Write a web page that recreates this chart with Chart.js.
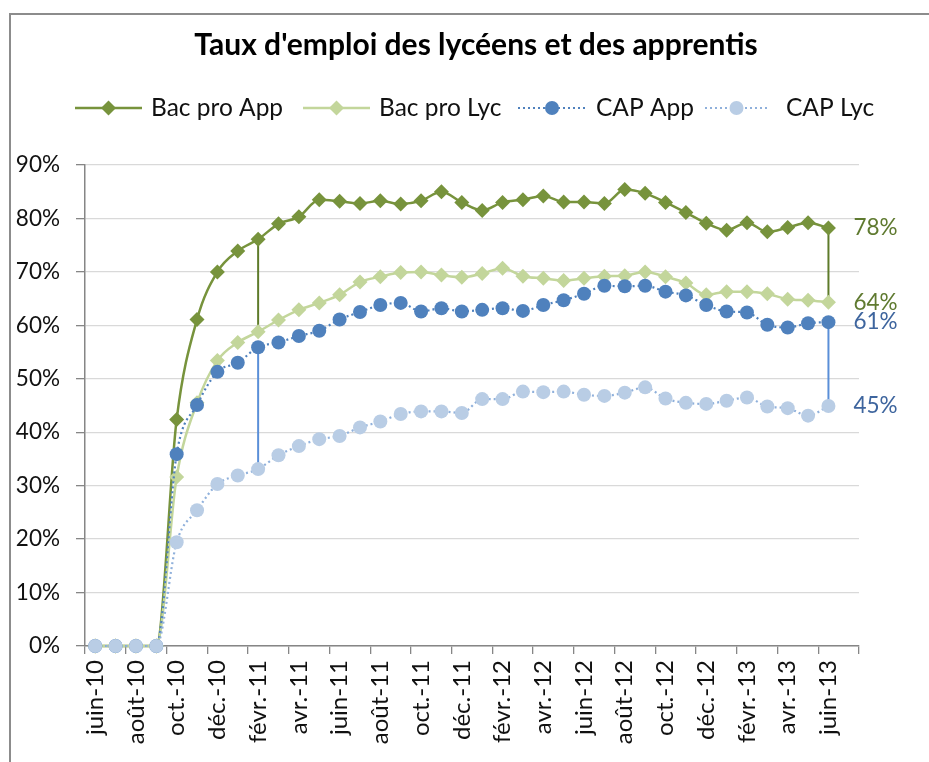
<!DOCTYPE html>
<html lang="fr">
<head>
<meta charset="utf-8">
<title>Taux d'emploi des lycéens et des apprentis</title>
<script src="https://cdn.jsdelivr.net/npm/chart.js@4.4.1/dist/chart.umd.min.js"></script>
<style>
  html, body { margin: 0; padding: 0; background: #fff; overflow: hidden; }
  #frame { position: absolute; left: 9px; top: 13px; width: 1000px; height: 800px;
           border: 2px solid #8c8c8c; box-sizing: border-box; }
  #wrap { position: absolute; left: 0; top: 0; width: 929px; height: 762px; }
</style>
</head>
<body>
<div id="frame"></div>
<div id="wrap"><canvas id="chart"></canvas></div>
<script>
// Mois (un par catégorie, la dernière reste vide comme dans Excel)
const months = [
  'juin-10', 'juil.-10', 'août-10', 'sept.-10', 'oct.-10', 'nov.-10', 'déc.-10',
  'janv.-11', 'févr.-11', 'mars-11', 'avr.-11', 'mai-11', 'juin-11', 'juil.-11', 'août-11', 'sept.-11', 'oct.-11', 'nov.-11', 'déc.-11',
  'janv.-12', 'févr.-12', 'mars-12', 'avr.-12', 'mai-12', 'juin-12', 'juil.-12', 'août-12', 'sept.-12', 'oct.-12', 'nov.-12', 'déc.-12',
  'janv.-13', 'févr.-13', 'mars-13', 'avr.-13', 'mai-13', 'juin-13', 'juil.-13'
];

// Taux d'emploi en %
const bacProApp = [0, 0, 0, 0, 42.4, 61.1, 70.0, 73.9, 76.1, 79.0, 80.3, 83.5, 83.2, 82.8, 83.3, 82.7, 83.3, 85.0, 83.0,
  81.5, 83.0, 83.5, 84.2, 83.1, 83.1, 82.8, 85.4, 84.7, 83.0, 81.1, 79.1, 77.8, 79.2, 77.5, 78.3, 79.2, 78.2];
const bacProLyc = [0, 0, 0, 0, 31.6, 45.5, 53.4, 56.8, 58.8, 61.0, 62.9, 64.2, 65.7, 68.1, 69.1, 69.9, 70.0, 69.4, 69.0,
  69.7, 70.7, 69.2, 68.8, 68.4, 68.8, 69.2, 69.3, 70.0, 69.1, 67.9, 65.7, 66.3, 66.3, 65.9, 64.9, 64.7, 64.3];
const capApp = [0, 0, 0, 0, 35.9, 45.1, 51.3, 53.0, 55.9, 56.8, 58.0, 59.0, 61.1, 62.5, 63.8, 64.2, 62.6, 63.2, 62.6,
  62.9, 63.2, 62.7, 63.8, 64.7, 65.9, 67.4, 67.3, 67.4, 66.3, 65.6, 63.8, 62.6, 62.4, 60.1, 59.6, 60.4, 60.6];
const capLyc = [0, 0, 0, 0, 19.4, 25.4, 30.3, 31.9, 33.1, 35.7, 37.4, 38.7, 39.3, 40.9, 42.0, 43.4, 43.9, 43.9, 43.6,
  46.2, 46.2, 47.6, 47.5, 47.6, 47.0, 46.8, 47.4, 48.4, 46.3, 45.5, 45.3, 45.9, 46.5, 44.8, 44.5, 43.1, 44.9];

const seriesNames = ['Bac pro App', 'Bac pro Lyc', 'CAP App', 'CAP Lyc'];
const seriesData = [bacProApp, bacProLyc, capApp, capLyc];

// Écarts App / Lyc affichés en février 2011 et juin 2013
const gapMonths = ['févr.-11', 'juin-13'];

const FONT = 'Lato, "Open Sans", "Liberation Sans", sans-serif';
const TEXT = '#111';
const AXIS = '#868686';

// Style de chaque série (ligne, marqueur, couleur des étiquettes de fin)
const styles = [
  { line: '#77933C', point: '#77933C', dash: [], marker: 'rectRot', r: 7.5, labelColor: '#5f7a30' },
  { line: '#C3D69B', point: '#C3D69B', dash: [], marker: 'rectRot', r: 7.5, labelColor: '#5f7a30' },
  { line: '#4F81BD', point: '#4F81BD', dash: [2, 3], marker: 'circle', r: 7, labelColor: '#3e659e' },
  { line: '#8FB0DB', point: '#B9CDE5', dash: [2, 3], marker: 'circle', r: 7, labelColor: '#3e659e' }
];

// Traits verticaux : de quelle série vers quelle série
const connectors = [
  { from: 0, to: 1, color: '#5e7b2a' },
  { from: 2, to: 3, color: '#5a8fd8' }
];

// Positions de la légende dessinée à la main
const legendBoxes = [
  { x1: 75, x2: 142, tx: 151 },
  { x1: 303, x2: 370, tx: 379 },
  { x1: 518, x2: 586, tx: 596 },
  { x1: 705, x2: 768, tx: 786 }
];
const LEGEND_Y = 108;

function drawMarker(ctx, style, x, y) {
  ctx.fillStyle = style.point;
  ctx.beginPath();
  if (style.marker === 'rectRot') {
    ctx.moveTo(x, y - style.r);
    ctx.lineTo(x + style.r, y);
    ctx.lineTo(x, y + style.r);
    ctx.lineTo(x - style.r, y);
    ctx.closePath();
  } else {
    ctx.arc(x, y, style.r, 0, Math.PI * 2);
  }
  ctx.fill();
}

const decorPlugin = {
  id: 'decor',
  beforeDatasetsDraw(chart) {
    const ctx = chart.ctx;
    const xs = chart.scales.x, ys = chart.scales.y;
    ctx.save();
    ctx.lineWidth = 2;
    connectors.forEach(c => {
      gapMonths.forEach(m => {
        const i = months.indexOf(m);
        const px = xs.getPixelForValue(i);
        ctx.strokeStyle = c.color;
        ctx.beginPath();
        ctx.moveTo(px, ys.getPixelForValue(seriesData[c.from][i]));
        ctx.lineTo(px, ys.getPixelForValue(seriesData[c.to][i]));
        ctx.stroke();
      });
    });
    ctx.restore();
  },
  afterDatasetsDraw(chart) {
    // étiquettes de la dernière valeur
    const ctx = chart.ctx;
    const xs = chart.scales.x, ys = chart.scales.y;
    ctx.save();
    ctx.font = '22.5px ' + FONT;
    ctx.textAlign = 'left';
    ctx.textBaseline = 'middle';
    seriesData.forEach((data, k) => {
      const last = data.length - 1;
      ctx.fillStyle = styles[k].labelColor;
      ctx.fillText(Math.round(data[last]) + '%', xs.getPixelForValue(last) + 25, ys.getPixelForValue(data[last]));
    });
    ctx.restore();
  },
  afterDraw(chart) {
    const ctx = chart.ctx;
    ctx.save();
    // titre
    ctx.fillStyle = '#000';
    ctx.font = 'bold 30px ' + FONT;
    ctx.textAlign = 'center';
    ctx.textBaseline = 'middle';
    ctx.fillText("Taux d'emploi des lycéens et des apprentis", 476, 45);

    // légende : trait + marqueur + libellé
    ctx.font = '24.5px ' + FONT;
    ctx.textAlign = 'left';
    legendBoxes.forEach((b, k) => {
      const s = styles[k];
      ctx.strokeStyle = s.line;
      ctx.lineWidth = s.dash.length ? 2 : 2.5;
      ctx.setLineDash(s.dash);
      ctx.beginPath();
      ctx.moveTo(b.x1, LEGEND_Y);
      ctx.lineTo(b.x2, LEGEND_Y);
      ctx.stroke();
      ctx.setLineDash([]);
      drawMarker(ctx, s, (b.x1 + b.x2) / 2, LEGEND_Y);
      ctx.fillStyle = TEXT;
      ctx.fillText(seriesNames[k], b.tx, LEGEND_Y);
    });
    ctx.restore();
  }
};

const datasets = seriesData.map((data, k) => ({
  label: seriesNames[k],
  data: data,
  borderColor: styles[k].line,
  backgroundColor: styles[k].point,
  borderWidth: styles[k].dash.length ? 2.2 : 2.5,
  borderDash: styles[k].dash,
  pointStyle: styles[k].marker,
  pointRadius: styles[k].r,
  pointHoverRadius: styles[k].r,
  pointBackgroundColor: styles[k].point,
  pointBorderColor: styles[k].point,
  pointBorderWidth: 0,
  cubicInterpolationMode: 'monotone',
  fill: false,
  clip: false,
  order: 3 - k // la dernière série passe au-dessus, comme dans Excel
}));

new Chart(document.getElementById('chart').getContext('2d'), {
  type: 'line',
  data: { labels: months, datasets: datasets },
  options: {
    responsive: true,
    maintainAspectRatio: false,
    animation: false,
    layout: { padding: { top: 165, right: 70, left: 0, bottom: 0 } },
    plugins: {
      legend: { display: false },
      title: { display: false },
      tooltip: { enabled: false }
    },
    scales: {
      x: {
        offset: true,
        afterFit: scale => { scale.height = 116; },
        grid: {
          offset: true,
          drawOnChartArea: false,
          tickLength: 8,
          lineWidth: 1.3,
          tickColor: ctx => (ctx.index === undefined || ctx.index % 2 === 0) ? AXIS : 'rgba(0,0,0,0)'
        },
        border: { color: AXIS, width: 1.5 },
        ticks: {
          autoSkip: false,
          minRotation: 90,
          maxRotation: 90,
          padding: 6,
          color: TEXT,
          font: { family: FONT, size: 24 },
          callback: (v, i) => i % 2 === 0 ? months[i] : ''
        }
      },
      y: {
        min: 0,
        max: 90,
        afterFit: scale => { scale.width = 85; },
        grid: { color: '#d9d9d9', lineWidth: 1.3, tickColor: AXIS, tickLength: 9 },
        border: { color: AXIS, width: 1.5 },
        ticks: {
          stepSize: 10,
          padding: 16,
          color: TEXT,
          font: { family: FONT, size: 22.5 },
          callback: v => v + '%'
        }
      }
    }
  },
  plugins: [decorPlugin]
});
</script>
</body>
</html>
